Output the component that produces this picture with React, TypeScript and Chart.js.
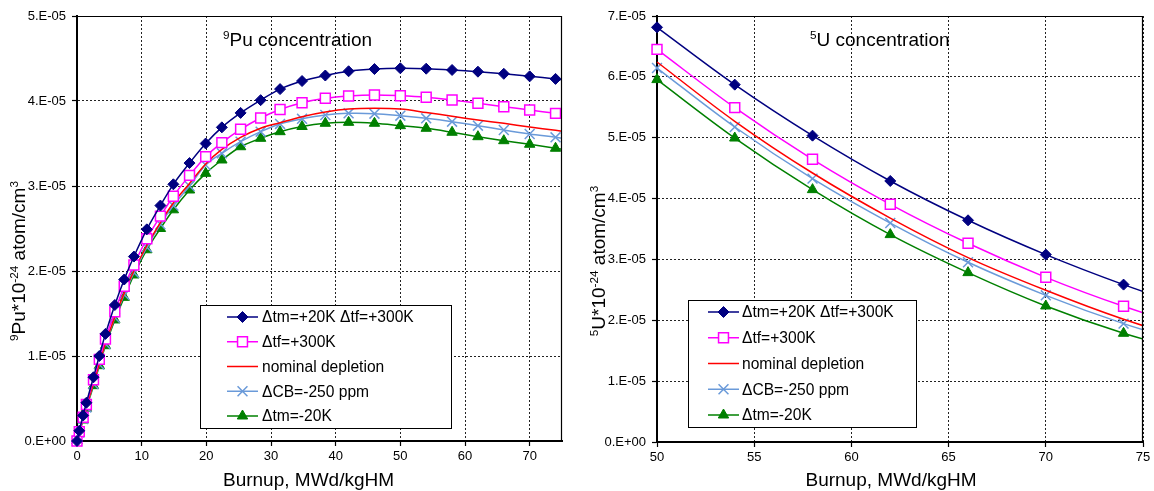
import React, { useEffect, useRef } from 'react';
import { Chart, registerables } from 'chart.js';
Chart.register(...registerables);

// ---------- 239Pu concentration (left panel), values in units of 1E-05 ----------
const BURNUP_PU = [0, 0.35, 0.95, 1.45, 2.55, 3.45, 4.4, 5.85, 7.3, 8.8, 10.8, 12.9, 14.9, 17.4, 19.9, 22.4, 25.3, 28.4, 31.4, 34.8, 38.4, 42, 46, 50, 54, 58, 62, 66, 70, 74, 78];
const PU_HOT = [0, 0.12, 0.30, 0.45, 0.75, 1.00, 1.26, 1.60, 1.90, 2.17, 2.49, 2.77, 3.02, 3.27, 3.50, 3.69, 3.86, 4.01, 4.14, 4.235, 4.30, 4.35, 4.376, 4.385, 4.38, 4.365, 4.345, 4.32, 4.29, 4.26, 4.225];
const PU_TF = [0, 0.11, 0.28, 0.43, 0.72, 0.96, 1.20, 1.52, 1.82, 2.07, 2.38, 2.645, 2.88, 3.125, 3.345, 3.51, 3.667, 3.80, 3.90, 3.98, 4.032, 4.059, 4.071, 4.062, 4.044, 4.012, 3.973, 3.933, 3.894, 3.855, 3.815];
const PU_NOM = [0, 0.105, 0.265, 0.40, 0.68, 0.91, 1.15, 1.46, 1.74, 2.00, 2.30, 2.57, 2.80, 3.03, 3.26, 3.43, 3.573, 3.68, 3.745, 3.815, 3.87, 3.905, 3.914, 3.905, 3.865, 3.82, 3.776, 3.737, 3.694, 3.655, 3.615];
const PU_CB = [0, 0.10, 0.26, 0.395, 0.67, 0.90, 1.14, 1.45, 1.72, 1.98, 2.28, 2.55, 2.77, 3.00, 3.247, 3.385, 3.521, 3.639, 3.73, 3.79, 3.835, 3.855, 3.851, 3.827, 3.796, 3.757, 3.71, 3.659, 3.612, 3.573, 3.53];
const PU_COLD = [0, 0.098, 0.247, 0.385, 0.651, 0.886, 1.121, 1.424, 1.69, 1.953, 2.25, 2.50, 2.72, 2.953, 3.149, 3.306, 3.462, 3.561, 3.639, 3.70, 3.738, 3.749, 3.738, 3.71, 3.679, 3.632, 3.58, 3.533, 3.491, 3.444, 3.40];

// ---------- 235U concentration (right panel), values in units of 1E-05 ----------
const BURNUP_U = [50, 54, 58, 62, 66, 70, 74, 78];
const U_HOT = [6.814, 5.872, 5.034, 4.289, 3.643, 3.079, 2.586, 2.15];
const U_TF = [6.452, 5.494, 4.645, 3.906, 3.265, 2.706, 2.23, 1.83];
const U_NOM = [6.244, 5.27, 4.42, 3.68, 3.03, 2.493, 2.016, 1.62];
const U_CB = [6.145, 5.176, 4.328, 3.598, 2.953, 2.41, 1.945, 1.56];
const U_COLD = [5.955, 4.995, 4.147, 3.408, 2.783, 2.235, 1.786, 1.43];

const SERIES_LABELS = ['Δtm=+20K Δtf=+300K', 'Δtf=+300K', 'nominal depletion', 'ΔCB=-250 ppm', 'Δtm=-20K'];

const PU_X_TICKS = [0, 10, 20, 30, 40, 50, 60, 70];
const U_X_TICKS = [50, 55, 60, 65, 70, 75];
const PU_Y_TICK_LABELS = ['0.E+00', '1.E-05', '2.E-05', '3.E-05', '4.E-05', '5.E-05'];
const U_Y_TICK_LABELS = ['0.E+00', '1.E-05', '2.E-05', '3.E-05', '4.E-05', '5.E-05', '6.E-05', '7.E-05'];
const X_TITLE = 'Burnup, MWd/kgHM';

const FONT = "'Liberation Sans', Arial, Helvetica, sans-serif";

const STYLES = [
  { color: '#000080', pointStyle: 'rectRot', radius: 5.5, fill: '#000080', pbw: 1 },
  { color: '#FF00FF', pointStyle: 'rect', radius: 7, fill: '#FFFFFF', pbw: 1.5 },
  { color: '#FF0000', pointStyle: 'circle', radius: 0, fill: '#FF0000', pbw: 0 },
  { color: '#6A9AD9', pointStyle: 'crossRot', radius: 7, fill: '#6A9AD9', pbw: 1.5 },
  { color: '#008000', pointStyle: 'triangle', radius: 6, fill: '#008000', pbw: 1 },
];

type Seg = { t: string; sup?: boolean };

function segFont(size: number, sup?: boolean) {
  return `${sup ? size * 0.62 : size}px ${FONT}`;
}
function richWidth(ctx: CanvasRenderingContext2D, segs: Seg[], size: number) {
  let w = 0;
  for (const s of segs) {
    ctx.font = segFont(size, s.sup);
    w += ctx.measureText(s.t).width;
  }
  return w;
}
function drawRich(ctx: CanvasRenderingContext2D, segs: Seg[], x: number, y: number, size: number, align: 'left' | 'center') {
  let cx = align === 'center' ? x - richWidth(ctx, segs, size) / 2 : x;
  ctx.textAlign = 'left';
  ctx.textBaseline = 'alphabetic';
  ctx.fillStyle = '#000';
  for (const s of segs) {
    ctx.font = segFont(size, s.sup);
    ctx.fillText(s.t, cx, s.sup ? y - size * 0.38 : y);
    cx += ctx.measureText(s.t).width;
  }
}

function drawMarker(ctx: CanvasRenderingContext2D, style: string, x: number, y: number, r: number, fill: string, stroke: string, bw: number) {
  if (!r) return;
  ctx.save();
  ctx.beginPath();
  ctx.lineWidth = bw;
  ctx.strokeStyle = stroke;
  ctx.fillStyle = fill;
  if (style === 'rectRot') {
    ctx.moveTo(x - r, y); ctx.lineTo(x, y - r); ctx.lineTo(x + r, y); ctx.lineTo(x, y + r); ctx.closePath();
  } else if (style === 'rect') {
    const s = r * Math.SQRT1_2;
    ctx.rect(x - s, y - s, 2 * s, 2 * s);
  } else if (style === 'triangle') {
    for (let k = 0; k < 3; k++) {
      const a = (k * 2 * Math.PI) / 3;
      const px = x + Math.sin(a) * r, py = y - Math.cos(a) * r;
      if (k === 0) ctx.moveTo(px, py); else ctx.lineTo(px, py);
    }
    ctx.closePath();
  } else if (style === 'crossRot') {
    const d = r * Math.SQRT1_2;
    ctx.moveTo(x - d, y - d); ctx.lineTo(x + d, y + d);
    ctx.moveTo(x + d, y - d); ctx.lineTo(x - d, y + d);
    ctx.stroke();
    ctx.restore();
    return;
  }
  ctx.fill();
  if (bw) ctx.stroke();
  ctx.restore();
}

type Panel = {
  xs: number[]; series: number[][]; xMin: number; xMax: number; xTicks: number[];
  yLabels: string[]; yAxisW: number; xAxisH: number; padRight: number; padTop: number;
  title: Seg[]; titleX: number; titleY: number; yTitle: Seg[]; yTitleX: number; yTitleY: number;
  xTitleDx: number; xTitleY: number;
  legend: { x: number; y: number; w: number; h: number; lineX0: number; lineX1: number; textX: number };
};

const LEFT: Panel = {
  xs: BURNUP_PU, series: [PU_HOT, PU_TF, PU_NOM, PU_CB, PU_COLD], xMin: 0, xMax: 75, xTicks: PU_X_TICKS,
  yLabels: PU_Y_TICK_LABELS, yAxisW: 77, xAxisH: 50, padRight: 16, padTop: 16,
  title: [{ t: '9', sup: true }, { t: 'Pu concentration' }], titleX: 223, titleY: 46,
  yTitle: [{ t: '9', sup: true }, { t: 'Pu*10' }, { t: '-24', sup: true }, { t: ' atom/cm' }, { t: '3', sup: true }],
  yTitleX: 25, yTitleY: 261, xTitleDx: -11, xTitleY: 486,
  legend: { x: 200, y: 305, w: 251, h: 123, lineX0: 27, lineX1: 58, textX: 62 },
};
const RIGHT: Panel = {
  xs: BURNUP_U, series: [U_HOT, U_TF, U_NOM, U_CB, U_COLD], xMin: 50, xMax: 75, xTicks: U_X_TICKS,
  yLabels: U_Y_TICK_LABELS, yAxisW: 79, xAxisH: 49, padRight: 11, padTop: 16,
  title: [{ t: '5', sup: true }, { t: 'U concentration' }], titleX: 232, titleY: 46,
  yTitle: [{ t: '5', sup: true }, { t: 'U*10' }, { t: '-24', sup: true }, { t: ' atom/cm' }, { t: '3', sup: true }],
  yTitleX: 27, yTitleY: 261, xTitleDx: -9, xTitleY: 486,
  legend: { x: 110, y: 300, w: 228, h: 127, lineX0: 20, lineX1: 51, textX: 54 },
};

function makeDecor(p: Panel) {
  return {
    id: 'decor',
    afterDraw(chart: any) {
      const ctx: CanvasRenderingContext2D = chart.ctx;
      const a = chart.chartArea;
      ctx.save();
      // plot frame (top / right)
      ctx.strokeStyle = '#000';
      ctx.lineWidth = 1.2;
      ctx.beginPath();
      ctx.moveTo(a.left, Math.round(a.top) + 0.5);
      ctx.lineTo(a.right, Math.round(a.top) + 0.5);
      ctx.moveTo(Math.round(a.right) - 0.5, a.top);
      ctx.lineTo(Math.round(a.right) - 0.5, a.bottom);
      ctx.stroke();
      // titles
      drawRich(ctx, p.title, p.titleX, p.titleY, 19, 'left');
      drawRich(ctx, [{ t: X_TITLE }], (a.left + a.right) / 2 + p.xTitleDx, p.xTitleY, 19, 'center');
      ctx.save();
      ctx.translate(p.yTitleX, p.yTitleY);
      ctx.rotate(-Math.PI / 2);
      drawRich(ctx, p.yTitle, 0, 0, 19, 'center');
      ctx.restore();
      // legend
      const L = p.legend;
      ctx.fillStyle = '#fff';
      ctx.fillRect(L.x, L.y, L.w, L.h);
      ctx.strokeStyle = '#000';
      ctx.lineWidth = 1;
      ctx.strokeRect(L.x + 0.5, L.y + 0.5, L.w, L.h);
      const rowH = (L.h - 24) / 4;
      chart.data.datasets.forEach((ds: any, i: number) => {
        const st = STYLES[i];
        const ry = L.y + 12 + i * rowH;
        ctx.strokeStyle = st.color;
        ctx.lineWidth = 1.5;
        ctx.beginPath();
        ctx.moveTo(L.x + L.lineX0, ry);
        ctx.lineTo(L.x + L.lineX1, ry);
        ctx.stroke();
        drawMarker(ctx, st.pointStyle, L.x + (L.lineX0 + L.lineX1) / 2, ry, st.radius, st.fill, st.color, st.pbw);
        ctx.fillStyle = '#000';
        ctx.font = `15.6px ${FONT}`;
        ctx.textAlign = 'left';
        ctx.textBaseline = 'middle';
        ctx.fillText(ds.label, L.x + L.textX, ry + 1);
      });
      ctx.restore();
    },
  };
}

function makeConfig(p: Panel): any {
  const datasets = p.series.map((vals, i) => {
    const st = STYLES[i];
    return {
      label: SERIES_LABELS[i],
      data: p.xs.map((x, j) => ({ x, y: vals[j] })),
      borderColor: st.color,
      backgroundColor: st.fill,
      borderWidth: 1.5,
      tension: 0.35,
      fill: false,
      clip: { left: 12, top: 12, right: 0, bottom: 12 },
      pointStyle: st.pointStyle,
      pointRadius: st.radius,
      pointHoverRadius: st.radius,
      pointBackgroundColor: st.fill,
      pointBorderColor: st.color,
      pointBorderWidth: st.pbw,
    };
  });
  const tickFont = { family: FONT, size: 13 };
  return {
    type: 'line',
    data: { datasets },
    plugins: [makeDecor(p)],
    options: {
      animation: false,
      responsive: false,
      devicePixelRatio: 1,
      events: [],
      layout: { padding: { left: 0, top: p.padTop, right: p.padRight, bottom: 0 } },
      plugins: { legend: { display: false }, tooltip: { enabled: false }, title: { display: false } },
      scales: {
        x: {
          type: 'linear',
          min: p.xMin,
          max: p.xMax,
          afterBuildTicks: (s: any) => { s.ticks = p.xTicks.map((v) => ({ value: v })); },
          afterFit: (s: any) => { s.height = p.xAxisH; },
          ticks: { color: '#000', font: tickFont, padding: 3, maxRotation: 0, autoSkip: false, includeBounds: false },
          grid: { color: '#222', lineWidth: 1, tickLength: 5, tickColor: '#000', tickWidth: 1.2, tickBorderDash: [] },
          border: { display: true, color: '#000', width: 2, dash: [2, 2] },
        },
        y: {
          type: 'linear',
          min: 0,
          max: p.yLabels.length - 1,
          afterBuildTicks: (s: any) => { s.ticks = p.yLabels.map((_, i) => ({ value: i })); },
          afterFit: (s: any) => { s.width = p.yAxisW; },
          ticks: { color: '#000', font: tickFont, padding: 6, autoSkip: false, callback: (_v: any, i: number) => p.yLabels[i] },
          grid: { color: '#222', lineWidth: 1, tickLength: 5, tickColor: '#000', tickWidth: 1.2, tickBorderDash: [] },
          border: { display: true, color: '#000', width: 2, dash: [2, 2] },
        },
      },
    },
  };
}

export default function App() {
  const leftRef = useRef<HTMLCanvasElement>(null);
  const rightRef = useRef<HTMLCanvasElement>(null);
  useEffect(() => {
    const c1 = new Chart(leftRef.current as HTMLCanvasElement, makeConfig(LEFT));
    const c2 = new Chart(rightRef.current as HTMLCanvasElement, makeConfig(RIGHT));
    return () => { c1.destroy(); c2.destroy(); };
  }, []);
  return (
    <div style={{ position: 'fixed', left: 0, top: 0, width: 1154, height: 491, background: '#fff' }}>
      <canvas ref={leftRef} width={578} height={491} style={{ position: 'absolute', left: 0, top: 0, width: 578, height: 491 }} />
      <canvas ref={rightRef} width={576} height={491} style={{ position: 'absolute', left: 578, top: 0, width: 576, height: 491 }} />
    </div>
  );
}
